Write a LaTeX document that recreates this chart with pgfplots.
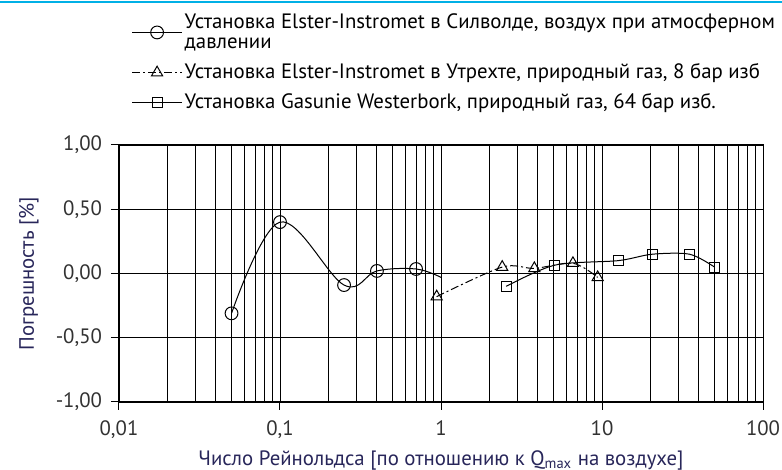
\documentclass[border=0pt]{standalone}
\usepackage{pgfplots}
\pgfplotsset{compat=1.18}
\usepackage{fontspec}
\setmainfont{PT Sans}
\definecolor{navy}{RGB}{40,38,90}
\definecolor{tickgray}{RGB}{50,50,50}
\definecolor{topcyan}{RGB}{0,176,230}
\begin{document}
\begin{tikzpicture}[x=1pt,y=1pt]
\path[use as bounding box] (-59.5,-34) rectangle (331.5,201);
\draw[topcyan,line width=1pt] (-59.5,199.8) -- (331.5,199.8);
\begin{axis}[
  at={(0,0)}, anchor=south west,
  scale only axis, width=322pt, height=128.5pt,
  xmode=log, xmin=0.01, xmax=100, ymin=-1, ymax=1,
  xtick={0.01,0.1,1,10,100},
  xticklabels={{0,01},{0,1},1,10,100},
  ytick={-1,-0.5,0,0.5,1},
  /pgf/number format/.cd, fixed, fixed zerofill, precision=2, use comma, assume math mode=true,
  /pgfplots/.cd,
  grid=both, minor x tick num=0,
  grid style={black, line width=0.45pt},
  minor grid style={black, line width=0.45pt},
  ymajorgrids, yminorgrids=false,
  axis line style={black, line width=0.5pt},
  tick align=outside, tick pos=left,
  major tick length=4pt, minor tick length=0pt,
  tick style={black, line width=0.5pt},
  ticklabel style={font=\fontsize{10.4}{12}\selectfont, text=tickgray},
  xticklabel style={yshift=-2pt},
  yticklabel style={xshift=-1pt},
  xlabel={Число Рейнольдса [по отношению к Q\textsubscript{max} на воздухе]},
  ylabel={Погрешность [\%]},
  label style={font=\fontsize{10.4}{12}\selectfont, text=navy},
  xlabel style={at={(axis description cs:0.5,-0.228)}, anchor=center},
  ylabel style={at={(axis description cs:-0.14,0.5)}, anchor=center},
  legend style={at={(rel axis cs:0.010,1.545)}, anchor=north west, draw=none, fill=none,
    font=\fontsize{10.4}{10.2}\selectfont, cells={anchor=west, align=left},
    nodes={inner xsep=1.2pt, inner ysep=2pt}, row sep=2pt},
  legend cell align=left,
  legend image code/.code={\draw[#1] (0cm,0cm) -- (0.87cm,0cm); \draw[#1] plot coordinates {(0.435cm,0cm)};},
]
\addplot[black, line width=0.5pt, smooth, tension=0.6, mark=o, mark size=3.2pt,
  mark options={solid, fill=white}, mark indices={1,2,3,4,5}]
  coordinates {(0.05,-0.31) (0.1,0.40) (0.25,-0.09) (0.4,0.02) (0.7,0.035) (1.0,-0.03)};
\addlegendentry{Установка Elster-Instromet в Силволде, воздух при атмосферном\\давлении}
\addplot[black, line width=0.5pt, smooth, tension=0.5, dash pattern=on 4pt off 1.5pt on 1pt off 1.5pt,
  mark=triangle, mark size=3.2pt, mark options={solid, fill=white}]
  coordinates {(0.94,-0.18) (2.4,0.05) (3.8,0.04) (6.6,0.08) (9.4,-0.03)};
\addlegendentry{Установка Elster-Instromet в Утрехте, природный газ, 8 бар изб}
\addplot[black, line width=0.5pt, smooth, tension=0.5, mark=square, mark size=2.5pt,
  mark options={solid, fill=white}]
  coordinates {(2.54,-0.10) (5.1,0.065) (12.6,0.10) (20.5,0.15) (35,0.15) (50,0.05)};
\addlegendentry{Установка Gasunie Westerbork, природный газ, 64 бар изб.}
\end{axis}
\end{tikzpicture}
\end{document}
